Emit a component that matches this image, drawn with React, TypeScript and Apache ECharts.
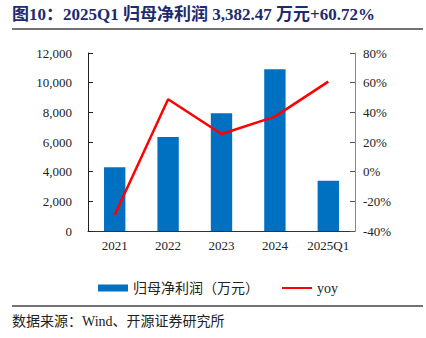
import React, { useEffect, useRef } from "react";
import * as echarts from "echarts";

const categories = ["2021", "2022", "2023", "2024", "2025Q1"];
const profitValues = [4300, 6340, 7930, 10900, 3382.47];
const yoyValues = [-29.2, 48.8, 25.4, 37.1, 60.72];
const leftTicks = { min: 0, max: 12000, interval: 2000 };
const rightTicks = { min: -40, max: 80, interval: 20 };
const titleText = "图10：2025Q1 归母净利润 3,382.47 万元+60.72%";
const sourceText = "数据来源：Wind、开源证券研究所";
const seriesNames = ["归母净利润（万元）", "yoy"];

const FONT = '"Liberation Serif", "Times New Roman", "Noto Sans CJK SC", serif';

export default function App() {
  const ref = useRef<HTMLDivElement>(null);
  useEffect(() => {
    if (!ref.current) return;
    const chart = echarts.init(ref.current, null, { renderer: "svg" });
    chart.setOption({
      animation: false,
      backgroundColor: "#ffffff",
      textStyle: { fontFamily: FONT },
      grid: { left: 88, right: 71, top: 53, bottom: 107, containLabel: false },
      graphic: [
        {
          type: "text",
          left: 12,
          top: 6,
          style: {
            text: titleText,
            fill: "#1c2a6e",
            font: 'bold 17px "Liberation Serif", "Noto Sans CJK SC", serif',
          },
        },
        {
          type: "line",
          shape: { x1: 12, y1: 29, x2: 423, y2: 29 },
          style: { stroke: "#444", lineWidth: 1.5 },
        },
        {
          type: "line",
          shape: { x1: 12, y1: 306, x2: 423, y2: 306 },
          style: { stroke: "#444", lineWidth: 1.5 },
        },
        {
          type: "text",
          left: 12,
          top: 314,
          style: {
            text: sourceText,
            fill: "#222",
            font: '14px "Liberation Serif", "Noto Sans CJK SC", serif',
          },
        },
      ],
      legend: {
        left: 93,
        top: 276,
        itemWidth: 30,
        itemHeight: 7,
        itemGap: 22,
        textStyle: { fontFamily: FONT, fontSize: 14, color: "#222" },
        data: [
          { name: seriesNames[0], icon: "rect" },
          { name: seriesNames[1], itemStyle: { opacity: 0 } },
        ],
      },
      xAxis: {
        type: "category",
        data: categories,
        axisLine: { lineStyle: { color: "#333", width: 1 } },
        axisTick: { inside: true, length: 5, lineStyle: { color: "#333" } },
        axisLabel: { color: "#222", fontSize: 13, fontFamily: FONT, margin: 8, interval: 0 },
      },
      yAxis: [
        {
          type: "value",
          min: leftTicks.min,
          max: leftTicks.max,
          interval: leftTicks.interval,
          splitLine: { show: false },
          axisLine: { show: true, lineStyle: { color: "#222" } },
          axisTick: { show: true, inside: true, length: 5, lineStyle: { color: "#222" } },
          axisLabel: {
            color: "#222",
            fontSize: 13,
            fontFamily: FONT,
            margin: 16,
            formatter: (v: number) => v.toLocaleString("en-US"),
          },
        },
        {
          type: "value",
          min: rightTicks.min,
          max: rightTicks.max,
          interval: rightTicks.interval,
          splitLine: { show: false },
          axisLine: { show: true, lineStyle: { color: "#888" } },
          axisTick: { show: true, inside: true, length: 5, lineStyle: { color: "#555" } },
          axisLabel: {
            color: "#222",
            fontSize: 13,
            fontFamily: FONT,
            margin: 8,
            formatter: "{value}%",
          },
        },
      ],
      series: [
        {
          name: seriesNames[0],
          type: "bar",
          data: profitValues,
          barWidth: "40%",
          itemStyle: { color: "#0070C0" },
        },
        {
          name: seriesNames[1],
          type: "line",
          yAxisIndex: 1,
          data: yoyValues,
          symbol: "none",
          lineStyle: { color: "#FF0000", width: 2.5 },
          itemStyle: { color: "#FF0000" },
        },
      ],
    });
    return () => chart.dispose();
  }, []);
  return <div ref={ref} style={{ width: 426, height: 338, position: "absolute", left: 0, top: 0 }} />;
}
